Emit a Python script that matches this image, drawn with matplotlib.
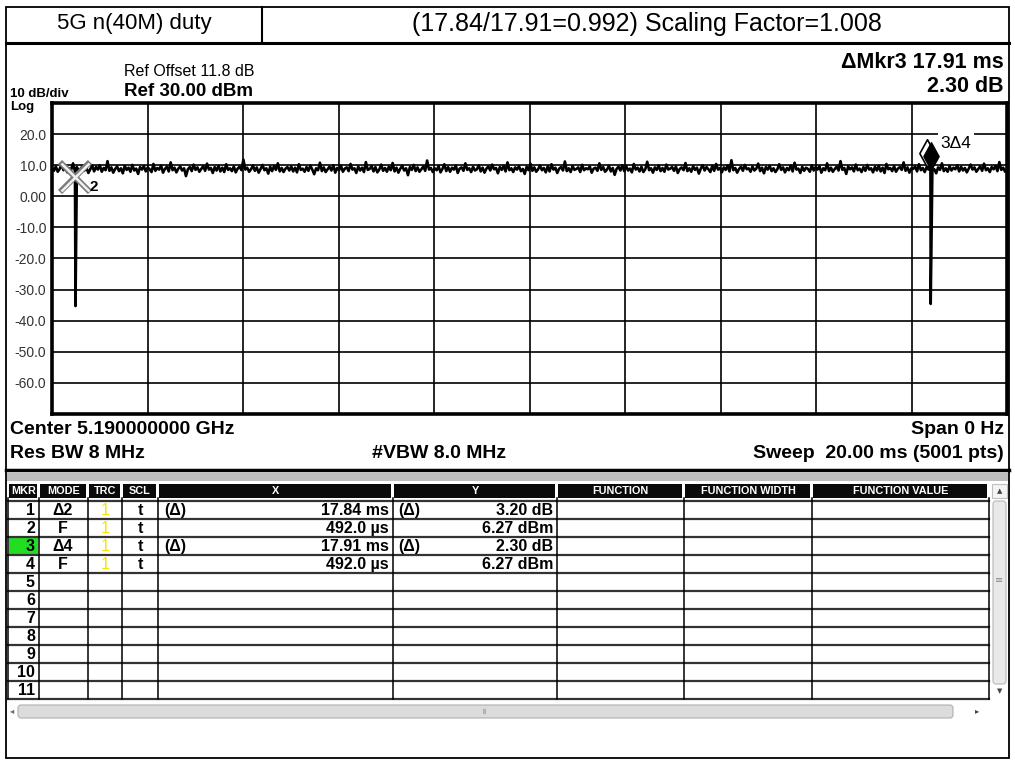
import numpy as np
import matplotlib
matplotlib.use("Agg")
import matplotlib.pyplot as plt
from matplotlib.path import Path
from matplotlib.patches import Rectangle, FancyBboxPatch

plt.rcParams['font.family'] = ['Liberation Sans', 'DejaVu Sans']

# ---------------- data ----------------
sweep_ms = 20.0
noise_levels = [
    9.1, 8.2, 9.6, 7.9, 8.8, 10.2, 8.4, 9.3, 7.7, 9.0, 8.5, 10.6, 8.1, 9.4, 7.8, 8.9, 9.7, 8.3, 9.2, 7.5, 8.7, 9.9, 8.0, 9.5, 8.6,
    10.0, 7.9, 9.1, 8.4, 11.3, 8.2, 9.3, 7.6, 8.8, 9.6, 8.1, 9.0, 7.4, 9.8, 8.5, 9.2, 7.9, 10.1, 8.3, 8.9, 7.2, 9.4, 8.6, 9.7, 8.0,
    9.3, 8.7, 7.8, 10.4, 8.2, 9.1, 8.6, 9.9, 7.6, 8.8, 9.5, 8.0, 10.9, 8.4, 9.2, 7.7, 8.9, 9.6, 8.3, 9.0, 6.5, 8.7, 9.4, 8.1, 10.2,
    8.5, 9.3, 7.9, 8.8, 9.7, 8.2, 10.5, 8.6, 9.1, 7.5, 9.4, 8.3, 9.8, 8.0, 9.2, 7.8, 10.3, 8.5, 9.0, 8.1, 9.6, 7.7, 8.9, 9.5, 8.4,
    11.8, 8.6, 9.2, 7.9, 8.7, 9.9, 8.2, 9.3, 7.6, 8.8, 10.1, 8.4, 9.0, 7.3, 9.5, 8.1, 9.7, 8.5, 10.6, 8.0, 9.1, 7.8, 8.9, 9.4, 8.3,
    9.6, 8.0, 9.2, 7.7, 10.3, 8.5, 8.9, 7.9, 9.4, 8.2, 9.9, 8.6, 7.1, 9.0, 8.4, 10.8, 8.1, 9.3, 7.8, 8.7, 9.5, 8.3, 10.0, 7.6, 9.1,
    8.4, 9.8, 7.9, 8.9, 9.3, 8.1, 10.4, 8.6, 9.0, 7.5, 9.6, 8.3, 9.2, 7.8, 11.0, 8.5, 8.8, 9.7, 8.0, 9.4, 7.7, 8.6, 10.2, 8.2, 9.1,
    7.9, 9.5, 8.4, 10.7, 8.0, 9.2, 7.6, 8.9, 9.8, 8.3, 9.0, 6.8, 9.4, 8.5, 10.1, 8.1, 9.3, 7.9, 8.7, 9.6, 8.2, 11.5, 8.6, 9.1, 7.8,
    9.0, 8.4, 9.7, 7.7, 8.8, 10.3, 8.1, 9.4, 7.9, 9.2, 8.6, 9.9, 7.5, 8.9, 9.3, 8.2, 10.6, 8.5, 9.0, 7.8, 9.5, 8.3, 8.7, 10.0, 8.0,
    9.2, 7.6, 8.9, 9.6, 8.3, 10.2, 8.7, 9.1, 7.4, 9.4, 8.5, 9.8, 8.0, 10.9, 8.4, 9.0, 7.8, 9.3, 8.6, 9.7, 8.1, 8.8, 7.2, 9.5, 8.4,
    10.5, 8.2, 9.3, 7.9, 8.7, 9.9, 8.4, 9.1, 7.7, 9.6, 8.0, 10.3, 8.6, 9.2, 7.5, 8.9, 9.4, 8.3, 11.2, 8.1, 9.0, 7.8, 9.7, 8.5, 8.8,
    9.3, 7.8, 10.1, 8.4, 9.0, 8.7, 9.6, 7.6, 8.9, 9.2, 8.2, 10.6, 8.5, 9.4, 7.9, 8.6, 9.8, 8.0, 9.1, 6.9, 8.8, 9.5, 8.3, 10.0, 8.1,
    9.7, 8.3, 8.9, 7.7, 10.4, 8.6, 9.2, 8.0, 9.5, 7.8, 8.7, 11.1, 8.4, 9.0, 7.6, 9.3, 8.5, 9.9, 8.1, 9.1, 7.9, 10.2, 8.6, 8.9, 9.4,
    8.2, 9.6, 7.5, 8.8, 9.3, 8.4, 10.7, 8.1, 9.0, 7.9, 9.7, 8.5, 9.2, 7.3, 8.9, 10.0, 8.3, 9.4, 8.7, 7.8, 9.8, 8.2, 10.4, 8.6, 9.1,
    7.7, 9.3, 8.5, 9.9, 8.0, 11.6, 8.4, 9.1, 7.6, 8.8, 9.5, 8.2, 10.1, 8.7, 9.0, 7.9, 9.6, 8.3, 8.9, 10.5, 8.1, 9.2, 7.4, 9.4, 8.6,
    9.8, 8.1, 9.0, 7.8, 8.7, 10.3, 8.5, 9.3, 7.7, 9.1, 8.4, 9.9, 8.0, 10.8, 8.6, 8.9, 7.5, 9.5, 8.2, 9.2, 8.8, 7.9, 10.0, 8.3, 9.4,
    8.6, 9.7, 7.6, 9.0, 8.4, 10.6, 8.1, 9.2, 7.9, 8.8, 9.5, 8.3, 11.3, 8.5, 9.1, 7.2, 9.6, 8.7, 9.3, 8.0, 10.2, 8.4, 8.9, 7.8, 9.4,
    8.2, 10.1, 8.6, 9.0, 7.7, 9.5, 8.3, 9.8, 8.0, 9.2, 7.5, 10.4, 8.7, 9.1, 8.1, 9.7, 7.9, 8.9, 9.4, 8.5, 10.9, 8.2, 9.3, 7.6, 9.0,
    8.8, 9.6, 8.0, 10.3, 8.4, 9.1, 7.8, 9.4, 8.6, 9.9, 8.2, 8.7, 7.4, 9.3, 8.5, 10.6, 8.1, 9.0, 7.9, 9.7, 8.3, 9.2, 8.7, 10.0, 8.0,
    9.5, 8.3, 9.1, 7.7, 8.9, 10.2, 8.6, 9.3, 7.9, 8.8, 9.6, 8.2, 10.5, 8.4, 9.0, 7.8, 9.4, 8.7, 9.8, 8.1, 11.0, 8.5, 9.2, 7.9, 8.8,
]
dip_times = [0.492, 18.402]
dip_levels = [-35.3, -34.6]

ref_time_ms = 0.492          # markers 2 and 4
ref_level_dbm = 6.27
delta_times_ms = [17.84, 17.91]   # markers 1 and 3
delta_levels_db = [3.20, 2.30]

y_tick_values = [-70, -60, -50, -40, -30, -20, -10, 0, 10, 20, 30]
y_tick_labels = ['', '-60.0', '-50.0', '-40.0', '-30.0', '-20.0', '-10.0', '0.00', '10.0', '20.0', '']

table_header = ['MKR', 'MODE', 'TRC', 'SCL', 'X', 'Y', 'FUNCTION', 'FUNCTION WIDTH', 'FUNCTION VALUE']
mkr_numbers = ['1', '2', '3', '4', '5', '6', '7', '8', '9', '10', '11']
mkr_modes = ['Δ2', 'F', 'Δ4', 'F']
mkr_trc = ['1', '1', '1', '1']
mkr_scl = ['t', 't', 't', 't']
mkr_x_prefix = ['(Δ)', '', '(Δ)', '']
mkr_x_vals = ['17.84 ms', '492.0 µs', '17.91 ms', '492.0 µs']
mkr_y_prefix = ['(Δ)', '', '(Δ)', '']
mkr_y_vals = ['3.20 dB', '6.27 dBm', '2.30 dB', '6.27 dBm']

# ---------------- figure ----------------
W, H = 1015, 763
fig = plt.figure(figsize=(W / 100, H / 100), dpi=100)
fig.patch.set_facecolor('white')

bg = fig.add_axes([0, 0, 1, 1])
bg.set_xlim(0, W)
bg.set_ylim(H, 0)
bg.axis('off')

K = 'black'
# outer frame and title row
bg.add_patch(Rectangle((6, 7), 1003, 751, fill=False, ec=K, lw=1.3))
bg.plot([6, 1009], [43, 43], color=K, lw=2.2)
bg.plot([262, 262], [7, 43], color=K, lw=1.5)
bg.text(134, 24, '5G n(40M) duty', ha='center', va='center', fontsize=16)
bg.text(647, 24, '(17.84/17.91=0.992) Scaling Factor=1.008', ha='center', va='center', fontsize=18)

# header annotations
bg.text(1004, 62, 'ΔMkr3 17.91 ms', ha='right', va='center', fontsize=15.5, fontweight='bold')
bg.text(1004, 87, '2.30 dB', ha='right', va='center', fontsize=15.5, fontweight='bold')
bg.text(124, 72, 'Ref Offset 11.8 dB', ha='left', va='center', fontsize=11.5)
bg.text(124, 92, 'Ref 30.00 dBm', ha='left', va='center', fontsize=13.5, fontweight='bold')
bg.text(10, 94, '10 dB/div', ha='left', va='center', fontsize=9.5, fontweight='bold')
bg.text(10, 107, 'Log', ha='left', va='center', fontsize=9.5, fontweight='bold')

# footer of trace panel
fs_foot = 14
bg.text(10, 429, 'Center 5.190000000 GHz', ha='left', va='center', fontsize=fs_foot, fontweight='bold')
bg.text(1004, 429, 'Span 0 Hz', ha='right', va='center', fontsize=fs_foot, fontweight='bold')
bg.text(10, 453, 'Res BW 8 MHz', ha='left', va='center', fontsize=fs_foot, fontweight='bold')
bg.text(372, 453, '#VBW 8.0 MHz', ha='left', va='center', fontsize=fs_foot, fontweight='bold')
bg.text(1004, 453, 'Sweep  20.00 ms (5001 pts)', ha='right', va='center', fontsize=fs_foot, fontweight='bold')
bg.plot([6, 1009], [470, 470], color=K, lw=2.5)
bg.add_patch(Rectangle((7, 473), 1001, 8, fc='#bdbdbd', ec='none'))

# ---------------- marker table ----------------
col_edges = [8, 39, 88, 122, 158, 393, 557, 684, 812, 989]
head_top, head_bot = 484, 498
for i, name in enumerate(table_header):
    x0, x1 = col_edges[i] + 1.5, col_edges[i + 1] - 1.5
    bg.add_patch(Rectangle((x0, head_top), x1 - x0, head_bot - head_top, fc='#0a0a0a', ec='none'))
    bg.text((x0 + x1) / 2, (head_top + head_bot) / 2 + 0.5, name, ha='center', va='center',
            fontsize=7.8, color='white', fontweight='bold')

row_top = 501
row_h = 18
n_rows = len(mkr_numbers)
fs_tab = 11.5
# green highlight of the active marker
bg.add_patch(Rectangle((col_edges[0] + 1, row_top + 2 * row_h + 1), col_edges[1] - col_edges[0] - 2, row_h - 2,
                       fc='#22dd22', ec='none'))
for k in range(n_rows + 1):
    y = row_top + k * row_h
    bg.plot([col_edges[0], col_edges[-1]], [y, y], color='#333333', lw=1.6)
for xe in col_edges:
    bg.plot([xe, xe], [head_bot, row_top + n_rows * row_h], color=K, lw=1.1)

for k, num in enumerate(mkr_numbers):
    yc = row_top + k * row_h + row_h / 2 + 0.5
    bg.text(35, yc, num, ha='right', va='center', fontsize=fs_tab, fontweight='bold')
    if k < len(mkr_modes):
        bg.text(63, yc, mkr_modes[k], ha='center', va='center', fontsize=fs_tab, fontweight='bold')
        bg.text(105, yc, mkr_trc[k], ha='center', va='center', fontsize=fs_tab, color='#f2e600')
        bg.text(140, yc, mkr_scl[k], ha='center', va='center', fontsize=fs_tab, fontweight='bold')
        bg.text(164, yc, mkr_x_prefix[k], ha='left', va='center', fontsize=fs_tab, fontweight='bold')
        bg.text(389, yc, mkr_x_vals[k], ha='right', va='center', fontsize=fs_tab, fontweight='bold')
        bg.text(398, yc, mkr_y_prefix[k], ha='left', va='center', fontsize=fs_tab, fontweight='bold')
        bg.text(553, yc, mkr_y_vals[k], ha='right', va='center', fontsize=fs_tab, fontweight='bold')

# vertical scrollbar
bg.add_patch(Rectangle((992, 484), 15, 14, fc='#f4f4f4', ec='#c0c0c0', lw=0.8))
bg.text(999.5, 491, '▲', ha='center', va='center', fontsize=5, color='#444444', family='DejaVu Sans')
bg.add_patch(FancyBboxPatch((993, 501), 13, 183, boxstyle='round,pad=0,rounding_size=3',
                            fc='#e9e9e9', ec='#b8b8b8', lw=0.8))
bg.text(999.5, 580, '≡', ha='center', va='center', fontsize=7, color='#8a8a8a', family='DejaVu Sans')
bg.text(999.5, 691, '▼', ha='center', va='center', fontsize=5, color='#444444', family='DejaVu Sans')
# horizontal scrollbar
bg.add_patch(FancyBboxPatch((18, 705), 935, 13, boxstyle='round,pad=0,rounding_size=3',
                            fc='#dcdcdc', ec='#b0b0b0', lw=0.8))
bg.text(12, 711, '◂', ha='center', va='center', fontsize=6, color='#666666', family='DejaVu Sans')
bg.text(977, 711, '▸', ha='center', va='center', fontsize=6, color='#444444', family='DejaVu Sans')
bg.text(485, 711, '≡', ha='center', va='center', fontsize=6, color='#9a9a9a', family='DejaVu Sans', rotation=90)

# ---------------- trace plot ----------------
px_left, px_top, px_right, px_bot = 52, 103, 1007, 414
ax = fig.add_axes([px_left / W, 1 - px_bot / H, (px_right - px_left) / W, (px_bot - px_top) / H])
ax.set_xlim(0, sweep_ms)
ax.set_ylim(-70, 30)
ax.set_xticks(np.arange(0, sweep_ms + 0.1, 2.0))
ax.set_yticks(y_tick_values)
ax.set_yticklabels(y_tick_labels, fontsize=10, color='#333333')
ax.set_xticklabels([])
ax.tick_params(length=0, pad=4)
ax.grid(True, color=K, lw=1.2)
for s in ax.spines.values():
    s.set_linewidth(2.6)
    s.set_color(K)
ax.set_facecolor('white')

t_grid = np.linspace(0, sweep_ms, len(noise_levels))
t_all = np.concatenate([t_grid, dip_times])
l_all = np.concatenate([noise_levels, dip_levels])
order = np.argsort(t_all)
ax.plot(t_all[order], l_all[order], color=K, lw=1.9, zorder=3)

# reference markers 2 and 4 (X shaped)
ax.plot([ref_time_ms], [ref_level_dbm], marker='x', ms=21, mew=4.2, color='#7a7a7a', zorder=4, ls='none')
ax.plot([ref_time_ms], [ref_level_dbm], marker='x', ms=20, mew=1.8, color='#f0f0f0', zorder=5, ls='none')
ax.annotate('2', (ref_time_ms, ref_level_dbm), xytext=(10, -7), textcoords='offset points',
            fontsize=11, fontweight='bold', ha='left', va='center', zorder=6)

# delta markers 1 and 3 (diamonds sitting on the trace)
diamond = Path([(0, 0), (0.55, 1), (0, 2), (-0.55, 1), (0, 0)],
               [Path.MOVETO, Path.LINETO, Path.LINETO, Path.LINETO, Path.CLOSEPOLY])
m1_t = ref_time_ms + delta_times_ms[0]
m1_l = ref_level_dbm + delta_levels_db[0]
m3_t = ref_time_ms + delta_times_ms[1]
m3_l = ref_level_dbm + delta_levels_db[1]
ax.plot([m1_t], [m1_l], marker=diamond, ms=40, mfc='white', mec=K, mew=1.2, ls='none', zorder=6)
ax.plot([m3_t], [m3_l], marker=diamond, ms=40, mfc=K, mec=K, mew=1.0, ls='none', zorder=7)
ax.annotate('3Δ4', (m3_t, m3_l), xytext=(7, 19), textcoords='offset points',
            fontsize=12.5, ha='left', va='center', zorder=8,
            bbox=dict(boxstyle='square,pad=0.15', fc='white', ec='none'))

fig.savefig('out.png', dpi=100, facecolor='white')
